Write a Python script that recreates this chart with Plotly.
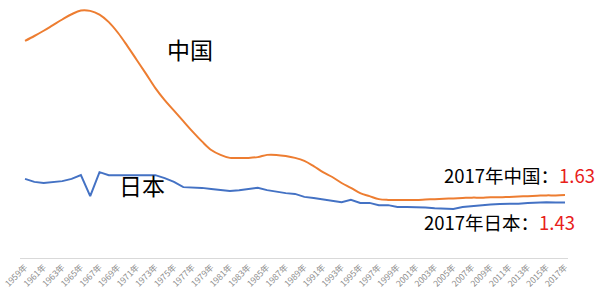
import plotly.graph_objects as go

years = list(range(1959, 2018))

china = [5.74, 5.87, 6.01, 6.16, 6.31, 6.45, 6.55, 6.54, 6.44, 6.24,
         5.95, 5.60, 5.23, 4.86, 4.48, 4.16, 3.88, 3.60, 3.32, 3.06,
         2.83, 2.70, 2.62, 2.62, 2.62, 2.64, 2.70, 2.70, 2.67, 2.62,
         2.54, 2.40, 2.24, 2.11, 1.95, 1.82, 1.68, 1.60, 1.52, 1.50,
         1.50, 1.50, 1.50, 1.51, 1.52, 1.53, 1.54, 1.55, 1.56, 1.56,
         1.57, 1.57, 1.58, 1.59, 1.60, 1.61, 1.62, 1.62, 1.63]

japan = [2.06, 1.98, 1.95, 1.98, 2.00, 2.06, 2.16, 1.60, 2.24, 2.16, 2.16,
         2.16, 2.16, 2.16, 2.16, 2.08, 1.98, 1.84, 1.83, 1.82, 1.79,
         1.76, 1.74, 1.76, 1.79, 1.82, 1.76, 1.71, 1.68, 1.66, 1.58,
         1.55, 1.52, 1.47, 1.44, 1.50, 1.42, 1.42, 1.36, 1.36, 1.31,
         1.31, 1.31, 1.30, 1.28, 1.27, 1.26, 1.31, 1.34, 1.36, 1.38,
         1.39, 1.39, 1.40, 1.42, 1.43, 1.44, 1.43, 1.43]

tick_years = list(range(1959, 2018, 2))
tick_text = [f"{y}年" for y in tick_years]

fig = go.Figure()
fig.add_trace(go.Scatter(x=years, y=china, mode="lines", name="中国",
                         line=dict(color="#ED7D31", width=2, shape="spline")))
fig.add_trace(go.Scatter(x=years, y=japan, mode="lines", name="日本",
                         line=dict(color="#4472C4", width=2)))

font_cjk = "Noto Sans CJK SC, sans-serif"
L, W, H = 20, 548, 258


def px(xp):
    return (xp - L) / W


def py(yp):
    return 1 - yp / H


fig.add_annotation(x=px(190), y=py(49), xref="paper", yref="paper",
                   xanchor="center", yanchor="middle",
                   text="中国", showarrow=False,
                   font=dict(family=font_cjk, size=23, color="black"))
fig.add_annotation(x=px(142), y=py(185), xref="paper", yref="paper",
                   xanchor="center", yanchor="middle",
                   text="日本", showarrow=False,
                   font=dict(family=font_cjk, size=23, color="black"))
fig.add_annotation(x=px(597), y=py(175), xref="paper", yref="paper",
                   xanchor="right", yanchor="middle",
                   text="2017年中国：<span style='color:#E8201A'>1.63</span>",
                   showarrow=False,
                   font=dict(family=font_cjk, size=18.5, color="black"))
fig.add_annotation(x=px(577), y=py(222), xref="paper", yref="paper",
                   xanchor="right", yanchor="middle",
                   text="2017年日本：<span style='color:#E8201A'>1.43</span>",
                   showarrow=False,
                   font=dict(family=font_cjk, size=18.5, color="black"))

fig.update_layout(
    width=600, height=297,
    margin=dict(l=20, r=32, t=0, b=39),
    paper_bgcolor="white", plot_bgcolor="white",
    showlegend=False,
    xaxis=dict(range=[1958.46, 2017.32], tickvals=tick_years, ticktext=tick_text,
               tickangle=-45, showgrid=False, zeroline=False,
               showline=True, linecolor="#D9D9D9", linewidth=1,
               ticklabeloverflow="allow", automargin=False,
               ticks="", tickfont=dict(family=font_cjk, size=8.5, color="#8C8C8C")),
    yaxis=dict(range=[-0.05, 6.83], visible=False, showgrid=False, zeroline=False),
)

fig.write_html("out.html")
